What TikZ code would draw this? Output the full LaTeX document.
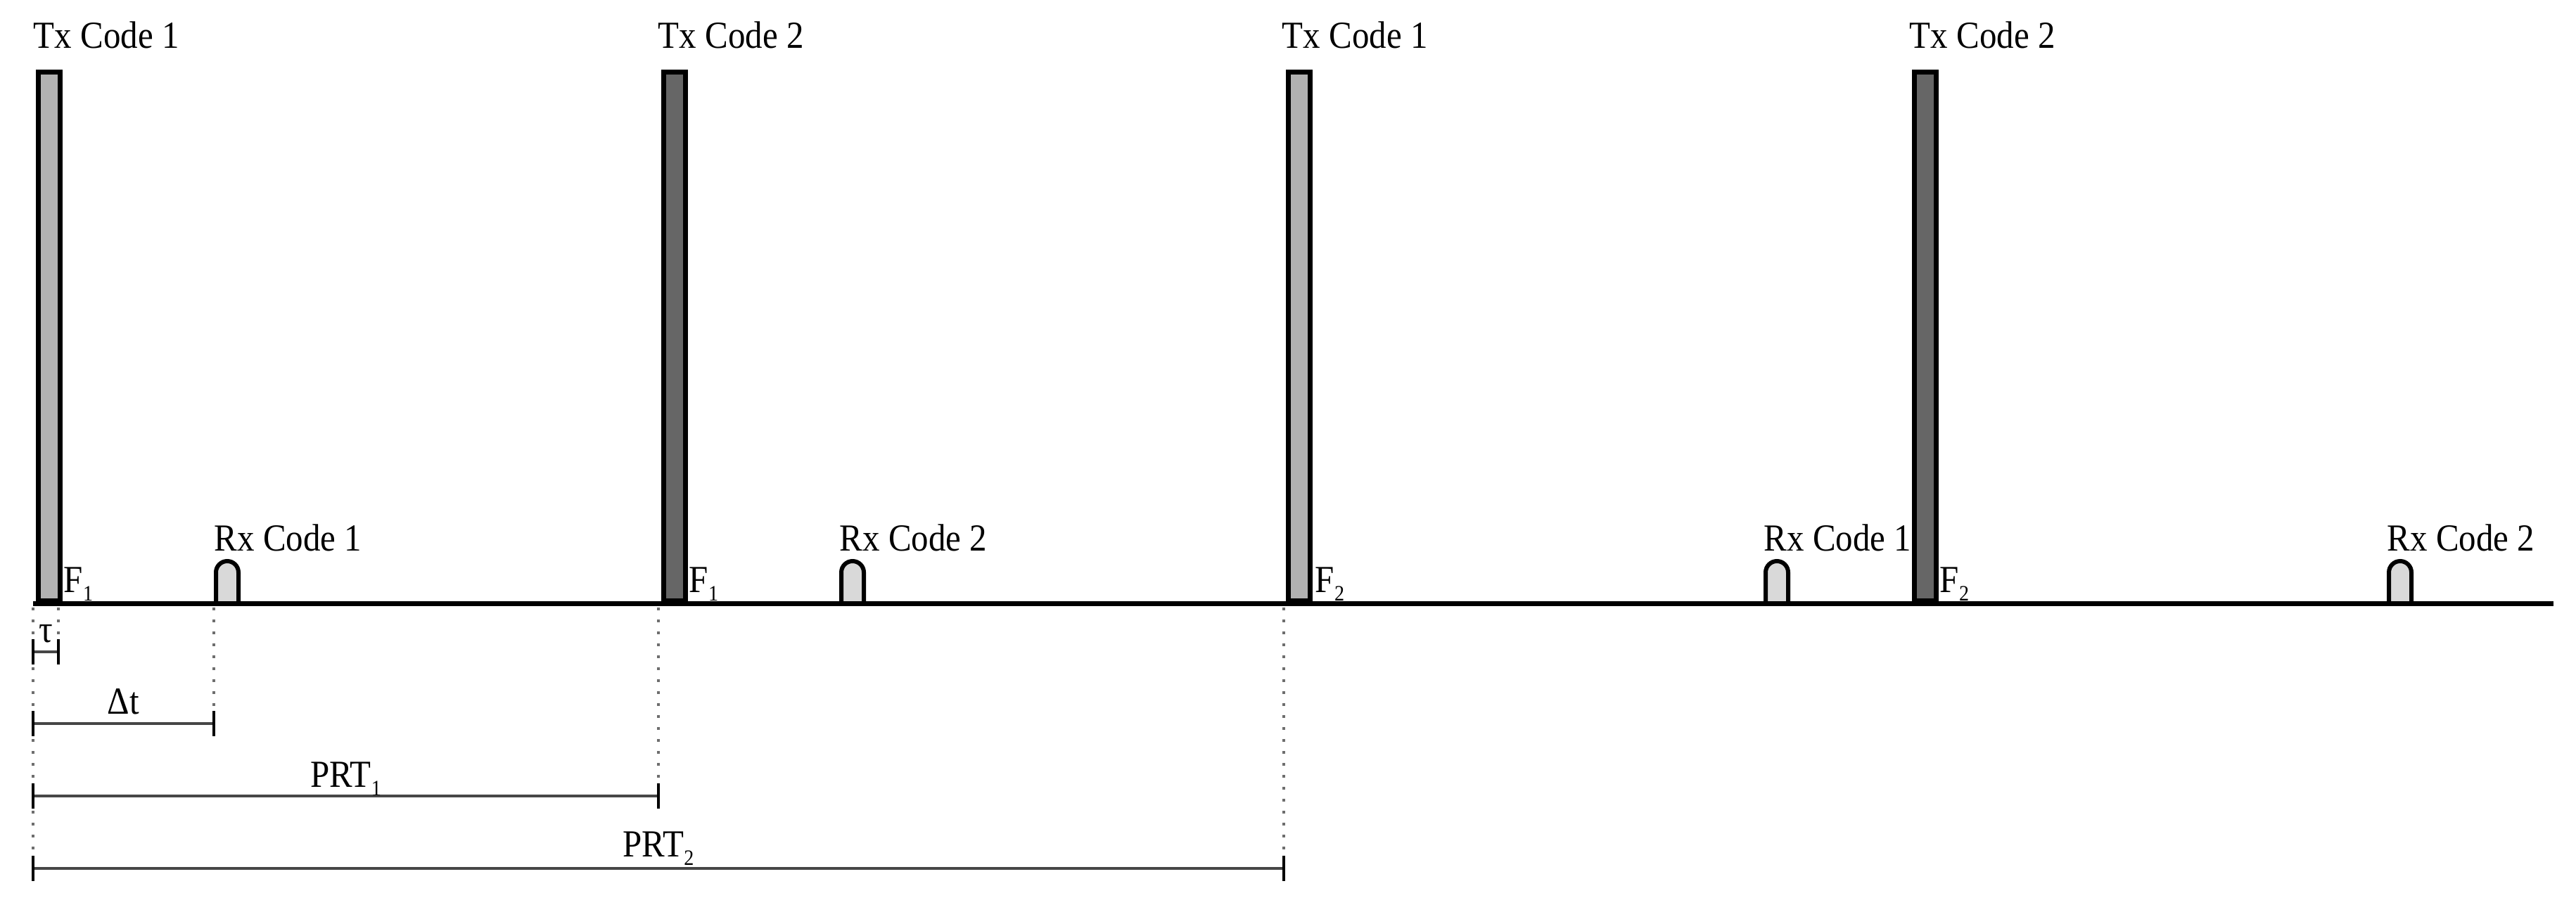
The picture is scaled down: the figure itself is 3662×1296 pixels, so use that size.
\documentclass[tikz,border=0pt]{standalone}
\usepackage{fontspec}
\setmainfont{Liberation Serif}[FakeStretch=0.9]
\usetikzlibrary{calc}
\newcommand{\lowsub}[1]{\raisebox{-3pt}{\fontsize{7.8}{9}\selectfont #1}}
\definecolor{txlight}{RGB}{178,178,178}
\definecolor{txdark}{RGB}{102,102,102}
\definecolor{rxfill}{RGB}{217,217,217}
\definecolor{dotgray}{RGB}{110,110,110}
\definecolor{dimgray}{RGB}{70,70,70}
\begin{document}
\begin{tikzpicture}[x=0.25pt,y=-0.25pt,
  lbl/.style={inner sep=0pt, font=\fontsize{13.6}{16}\selectfont},
  txbar/.style={draw=black, line width=1.75pt, minimum width=7.75pt, minimum height=187.9pt, inner sep=0pt, anchor=south west},
  rxpulse/.style={draw=black, fill=rxfill, line width=1.5pt, rounded corners=4pt},
  axisline/.style={draw=black, line width=1.75pt},
  dotline/.style={draw=dotgray, line width=1pt, dash pattern=on 1pt off 3.25pt},
  dimline/.style={draw=dimgray, line width=1pt},
  tickline/.style={draw=black, line width=0.8pt}
]
\useasboundingbox (0,0) rectangle (3662,1296);
\fill[white] (0,0) rectangle (3662,1296);

% Rx pulses
\draw[rxpulse] (307,858) -- (307,798) -- (339,798) -- (339,858);
\draw[rxpulse] (1196,858) -- (1196,798) -- (1228,798) -- (1228,858);
\draw[rxpulse] (2510,858) -- (2510,798) -- (2542,798) -- (2542,858);
\draw[rxpulse] (3396,858) -- (3396,798) -- (3428,798) -- (3428,858);

% Tx bars
\node[txbar, fill=txlight] (tx1) at (50.5,858) {};
\node[txbar, fill=txdark]  (tx2) at (939.5,858) {};
\node[txbar, fill=txlight] (tx3) at (1827.5,858) {};
\node[txbar, fill=txdark]  (tx4) at (2717.5,858) {};

% axis
\coordinate (ax0) at (47,858);
\coordinate (ax1) at (3630,858);
\draw[axisline] (ax0) -- (ax1);

% Tx labels
\node[lbl, anchor=base west] (txl1) at (47,68) {Tx Code 1};
\node[lbl, anchor=base west] (txl2) at (935,68) {Tx Code 2};
\node[lbl, anchor=base west] (txl3) at (1822,68) {Tx Code 1};
\node[lbl, anchor=base west] (txl4) at (2714,68) {Tx Code 2};

% Rx labels
\node[lbl, anchor=base west] (rxl1) at (304,783) {Rx Code 1};
\node[lbl, anchor=base west] (rxl2) at (1193,783) {Rx Code 2};
\node[lbl, anchor=base west] (rxl3) at (2507,783) {Rx Code 1};
\node[lbl, anchor=base west] (rxl4) at (3393,783) {Rx Code 2};

% F labels
\node[lbl, anchor=base west] (f1) at (90,842) {F\lowsub{1}};
\node[lbl, anchor=base west] (f2) at (979,842) {F\lowsub{1}};
\node[lbl, anchor=base west] (f3) at (1869,842) {F\lowsub{2}};
\node[lbl, anchor=base west] (f4) at (2757,842) {F\lowsub{2}};

% dotted guide lines
\coordinate (g0a) at (47,864);   \coordinate (g0b) at (47,1255);
\coordinate (g1a) at (83,864);   \coordinate (g1b) at (83,944);
\coordinate (g2a) at (304,864);  \coordinate (g2b) at (304,1045);
\coordinate (g3a) at (936,864);  \coordinate (g3b) at (936,1150);
\coordinate (g4a) at (1825,864); \coordinate (g4b) at (1825,1255);
\draw[dotline] (g0a) -- (g0b);
\draw[dotline] (g1a) -- (g1b);
\draw[dotline] (g2a) -- (g2b);
\draw[dotline] (g3a) -- (g3b);
\draw[dotline] (g4a) -- (g4b);

% tau
\coordinate (ta) at (47,927); \coordinate (tb) at (83,927);
\draw[dimline] (ta) -- (tb);
\draw[tickline] ($(ta)+(0,-18)$) -- ($(ta)+(0,18)$);
\draw[tickline] ($(tb)+(0,-18)$) -- ($(tb)+(0,18)$);
\node[lbl, anchor=base] (taul) at ($(ta)!0.5!(tb)+(0,-14)$) {τ};

% delta t
\coordinate (da) at (47,1029); \coordinate (db) at (304,1029);
\draw[dimline] (da) -- (db);
\draw[tickline] ($(da)+(0,-18)$) -- ($(da)+(0,18)$);
\draw[tickline] ($(db)+(0,-18)$) -- ($(db)+(0,18)$);
\node[lbl, anchor=base] (dtl) at ($(da)!0.5!(db)+(0,-14)$) {Δt};

% PRT1
\coordinate (pa) at (47,1132); \coordinate (pb) at (936,1132);
\draw[dimline] (pa) -- (pb);
\draw[tickline] ($(pa)+(0,-18)$) -- ($(pa)+(0,18)$);
\draw[tickline] ($(pb)+(0,-18)$) -- ($(pb)+(0,18)$);
\node[lbl, anchor=base] (prt1l) at ($(pa)!0.5!(pb)+(0,-13)$) {PRT\lowsub{1}};

% PRT2
\coordinate (qa) at (47,1235); \coordinate (qb) at (1825,1235);
\draw[dimline] (qa) -- (qb);
\draw[tickline] ($(qa)+(0,-18)$) -- ($(qa)+(0,18)$);
\draw[tickline] ($(qb)+(0,-18)$) -- ($(qb)+(0,18)$);
\node[lbl, anchor=base] (prt2l) at ($(qa)!0.5!(qb)+(0,-17)$) {PRT\lowsub{2}};
\end{tikzpicture}
\end{document}
